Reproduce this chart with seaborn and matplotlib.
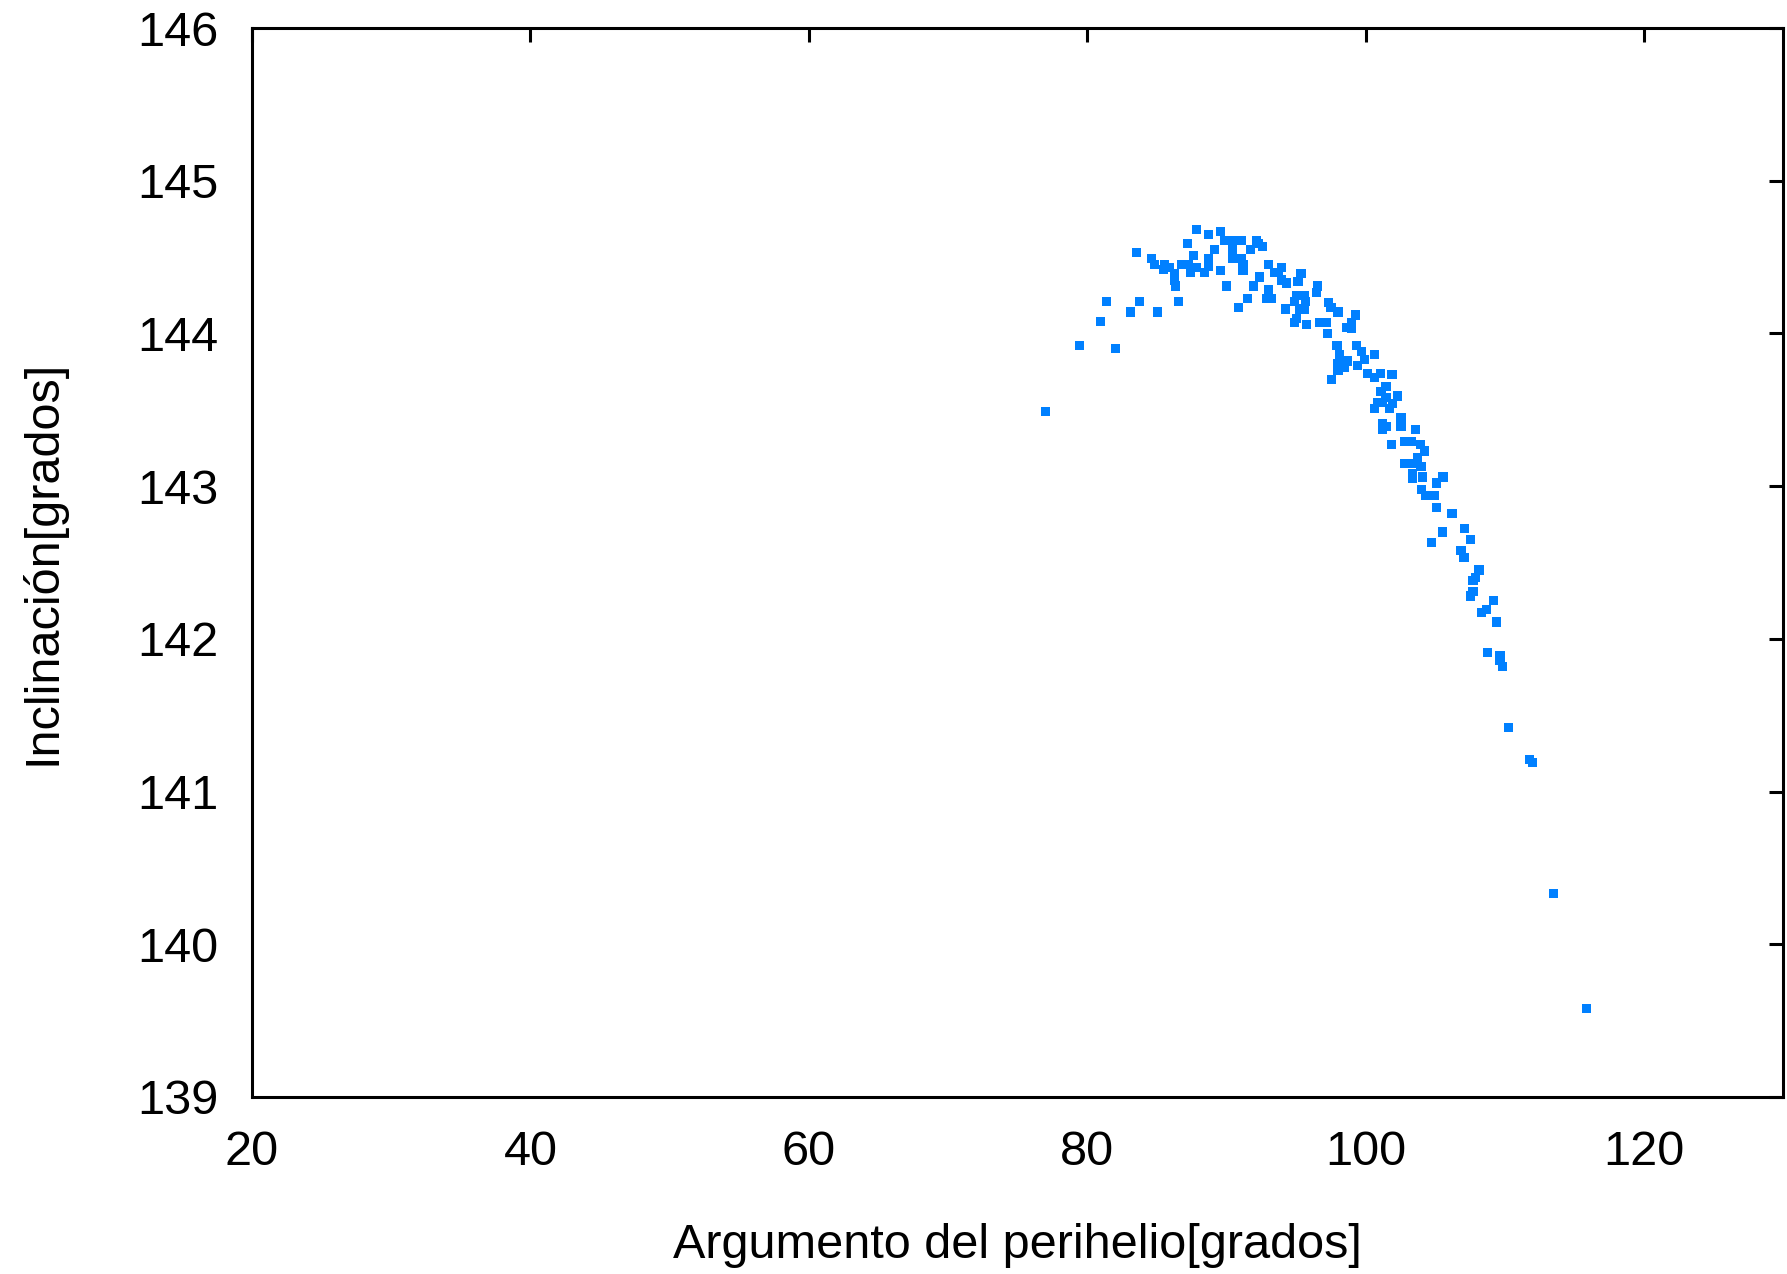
import matplotlib
matplotlib.use("Agg")
import matplotlib.pyplot as plt
import seaborn as sns
import pandas as pd

# Argumento del perihelio [grados]
arg_perihelio = [
    77.02, 79.45, 80.95, 81.39, 82.02, 83.10, 83.53, 83.76, 84.61, 84.85,
    85.04, 85.45, 85.57, 85.93, 86.24, 86.24, 86.33, 86.55, 86.76, 87.19,
    87.24, 87.41, 87.60, 87.84, 87.84, 88.44, 88.70, 88.70, 88.70, 89.13,
    89.56, 89.56, 89.89, 89.99, 90.42, 90.42, 90.42, 90.85, 91.06, 91.06,
    91.18, 91.18, 91.50, 91.71, 91.92, 92.14, 92.26, 92.35, 92.57, 92.90,
    93.00, 93.00, 93.21, 93.45, 93.69, 93.93, 93.93, 94.22, 94.29, 94.90,
    94.90, 95.00, 95.00, 95.13, 95.24, 95.35, 95.60, 95.60, 95.70, 95.77,
    96.44, 96.56, 96.67, 97.16, 97.28, 97.30, 97.50, 97.52, 97.93, 98.00,
    98.00, 98.00, 98.11, 98.50, 98.60, 98.70, 98.96, 99.00, 99.25, 99.32,
    99.40, 99.68, 99.90, 100.14, 100.60, 100.60, 100.62, 100.86, 101.05, 101.10,
    101.22, 101.22, 101.22, 101.46, 101.46, 101.46, 101.68, 101.87, 101.89, 101.94,
    102.30, 102.53, 102.53, 102.77, 102.77, 103.25, 103.37, 103.37, 103.37, 103.60,
    103.73, 103.96, 103.97, 104.03, 104.09, 104.20, 104.32, 104.70, 104.92, 105.10,
    105.10, 105.50, 105.55, 106.20, 106.84, 107.06, 107.07, 107.50, 107.50, 107.70,
    107.70, 107.90, 108.13, 108.30, 108.70, 108.75, 109.20, 109.40, 109.64, 109.64,
    109.85, 110.25, 111.76, 111.97, 113.48, 115.85,
]

# Inclinación [grados]
inclinacion = [
    143.49, 143.92, 144.08, 144.21, 143.90, 144.14, 144.53, 144.21, 144.49, 144.45,
    144.14, 144.42, 144.45, 144.43, 144.39, 144.35, 144.31, 144.21, 144.45, 144.59,
    144.45, 144.40, 144.51, 144.68, 144.43, 144.40, 144.65, 144.49, 144.44, 144.55,
    144.665, 144.41, 144.61, 144.31, 144.61, 144.55, 144.49, 144.17, 144.61, 144.49,
    144.45, 144.41, 144.23, 144.55, 144.31, 144.61, 144.59, 144.37, 144.57, 144.23,
    144.45, 144.29, 144.23, 144.40, 144.40, 144.43, 144.35, 144.16, 144.33, 144.21,
    144.07, 144.25, 144.10, 144.34, 144.16, 144.39, 144.25, 144.16, 144.21, 144.06,
    144.27, 144.31, 144.07, 144.07, 144.00, 144.20, 144.17, 143.70, 143.92, 144.14,
    143.80, 143.76, 143.86, 143.78, 144.04, 143.82, 144.03, 144.07, 144.12, 143.92,
    143.79, 143.88, 143.83, 143.74, 143.86, 143.51, 143.71, 143.55, 143.74, 143.62,
    143.55, 143.41, 143.37, 143.65, 143.58, 143.39, 143.51, 143.27, 143.73, 143.54,
    143.59, 143.45, 143.39, 143.29, 143.15, 143.29, 143.15, 143.08, 143.05, 143.37,
    143.19, 143.27, 143.13, 142.98, 143.06, 143.23, 142.94, 142.63, 142.94, 142.86,
    143.02, 142.70, 143.06, 142.82, 142.58, 142.53, 142.72, 142.65, 142.28, 142.38,
    142.31, 142.40, 142.45, 142.17, 142.19, 141.91, 142.25, 142.11, 141.89, 141.86,
    141.82, 141.42, 141.21, 141.19, 140.33, 139.58,
]

x_ticks = [20, 40, 60, 80, 100, 120]
y_ticks = [139, 140, 141, 142, 143, 144, 145, 146]

df = pd.DataFrame({"arg": arg_perihelio, "inc": inclinacion})

sns.set_style("white")
plt.rcParams["font.family"] = ["Liberation Sans", "DejaVu Sans"]

fig = plt.figure(figsize=(17.87, 12.74), dpi=100)
ax = fig.add_axes([0.141, 0.139, 0.857, 0.839])

sns.scatterplot(data=df, x="arg", y="inc", ax=ax, marker="s", s=44,
                color="#0080ff", linewidth=0, edgecolor="none", legend=False)

ax.set_xlim(20, 130)
ax.set_ylim(139, 146)
ax.set_xticks(x_ticks)
ax.set_yticks(y_ticks)
ax.tick_params(axis="both", which="both", direction="in", length=10, width=2.2,
               labelsize=35, pad=24, top=True, right=True, colors="black",
               labelcolor="black")
for sp in ax.spines.values():
    sp.set_visible(True)
    sp.set_linewidth(2.2)
    sp.set_color("black")

ax.set_xlabel("Argumento del perihelio[grados]", fontsize=35, color="black")
ax.set_ylabel("Inclinación[grados]", fontsize=35, color="black")
ax.xaxis.set_label_coords(0.5, -0.139)
ax.xaxis.label.set_verticalalignment("center")
ax.yaxis.set_label_coords(-0.1365, 0.5)
ax.yaxis.label.set_verticalalignment("center")

fig.savefig("out.png", dpi=100, facecolor="white")
